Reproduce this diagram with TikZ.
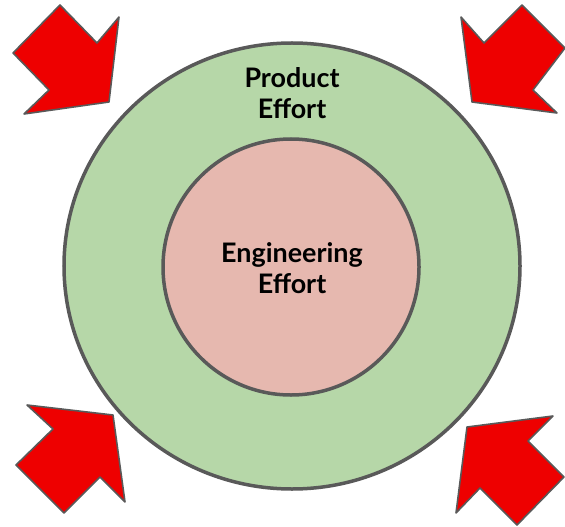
\documentclass[tikz,border=0pt]{standalone}
\usepackage{fontspec}
\usetikzlibrary{shapes.geometric}
\setmainfont{Lato}
\definecolor{prodgreen}{HTML}{B6D7A8}
\definecolor{engpink}{HTML}{E6B8AF}
\definecolor{rimgrey}{HTML}{595959}
\definecolor{pushred}{HTML}{EE0000}
\begin{document}
\begin{tikzpicture}[x=1bp,y=-1bp,line join=round,
	ring/.style={ellipse,draw=rimgrey,line width=3.5bp,inner sep=0pt},
	push/.style={fill=pushred,draw=rimgrey,line width=1.6bp},
	lbl/.style={align=center,font=\fontsize{27}{31}\selectfont\bfseries}]
	\useasboundingbox (0,0) rectangle (565,527);
	\node[ring,fill=prodgreen,minimum width=456bp,minimum height=446bp] (outer) at (292,266) {};
	\node[ring,fill=engpink,minimum width=256bp,minimum height=256bp] (inner) at (291,267) {};
	\node[lbl] (prod) at (292,93) {Product\\Effort};
	\node[lbl] (eng) at (292,268) {Engineering\\Effort};
	% arrows pressing in
	\draw[push] (60,5)--(97,43)--(119,17)--(109,102)--(24,114)--(49,90)--(13,53)--cycle;
	\draw[push] (522,5)--(565,48)--(533,90)--(557,113)--(472,102)--(461,17)--(484,43)--cycle;
	\draw[push] (27,405)--(113,415)--(125,502)--(100,477)--(64,513)--(16,465)--(53,429)--cycle;
	\draw[push] (553,416)--(528,441)--(564,477)--(517,525)--(480,488)--(456,513)--(467,427)--cycle;
\end{tikzpicture}
\end{document}
